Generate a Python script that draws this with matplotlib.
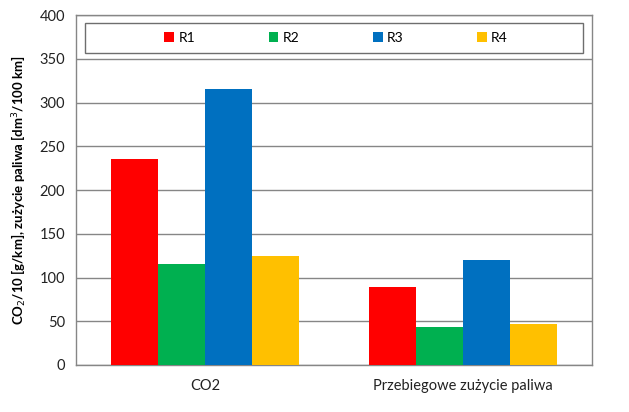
import matplotlib.pyplot as plt
from matplotlib.patches import Rectangle
import numpy as np

categories = ["CO2", "Przebiegowe zużycie paliwa"]
series = ["R1", "R2", "R3", "R4"]
r1 = [236, 89]
r2 = [115, 43]
r3 = [316, 120]
r4 = [125, 47]
colors = ["#ff0000", "#00b050", "#0070c0", "#ffc000"]
yticks = [0, 50, 100, 150, 200, 250, 300, 350, 400]

plt.rcParams['font.family'] = ['Lato', 'DejaVu Sans']

fig = plt.figure(figsize=(6.29, 4.12), dpi=100)
ax = fig.add_axes([76/629, 1-365/412, 516/629, 350/412])

x = np.arange(len(categories))
w = 0.729 / 4
for i, (vals, lbl, clr) in enumerate(zip([r1, r2, r3, r4], series, colors)):
    ax.bar(x + (i - 1.5) * w, vals, w, color=clr, label=lbl, zorder=3)

ax.set_xlim(-0.5, 1.5)
ax.set_ylim(0, 400)
ax.set_yticks(yticks)
ax.yaxis.grid(True, color='#868686', linewidth=1, zorder=0)
ax.set_xticks(x)
ax.set_xticklabels(categories, fontsize=10)
ax.tick_params(axis='both', length=0, labelsize=10.5, colors='#222222')
ax.tick_params(axis='x', pad=10)
ax.tick_params(axis='y', pad=8)
for s in ax.spines.values():
    s.set_color('#868686')
    s.set_linewidth(1)

ax.set_ylabel("CO$_2$/10 [g/km], zużycie paliwa [dm$^3$/100 km]", fontsize=9.5,
              fontweight='bold', labelpad=8)

# legend box drawn by hand, entries centred inside
box = Rectangle((9/516, (365-53)/350), 498/516, 30/350, transform=ax.transAxes,
                facecolor='white', edgecolor='#6e6e6e', linewidth=1, zorder=4)
ax.add_patch(box)
leg = ax.legend(loc='center', bbox_to_anchor=((336-76)/516, (365-38)/350),
                ncol=4, frameon=False, handlelength=0.7, handleheight=0.7,
                handletextpad=0.3, columnspacing=5.3, fontsize=10,
                borderaxespad=0)
leg.set_zorder(5)

plt.savefig('out.png', dpi=100)
